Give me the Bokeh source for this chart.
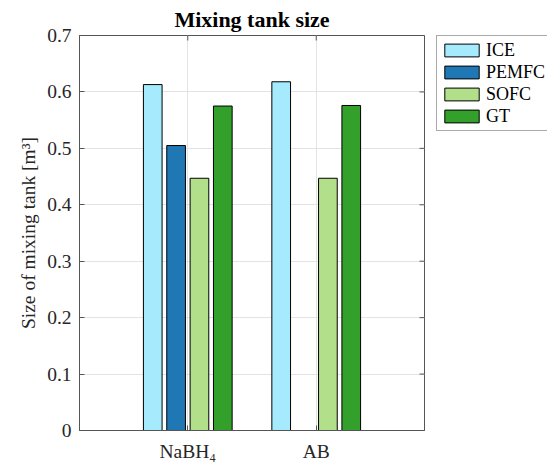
import numpy as np
from bokeh.plotting import figure
from bokeh.layouts import row
from bokeh.models import (ColumnDataSource, FixedTicker, LinearAxis, Legend,
                          LegendItem, Range1d)
from bokeh.transform import dodge
from bokeh.embed import file_html
from bokeh.resources import INLINE

# ---- data ----
categories = ["NaBH\u2084", "AB"]
positions = [1, 2]
series = ["ICE", "PEMFC", "SOFC", "GT"]
ICE = [0.613, 0.618]
PEMFC = [0.505, 0.0]
SOFC = [0.447, 0.447]
GT = [0.575, 0.576]
colors = ["#a6ebfd", "#1f77b4", "#b2df8a", "#33a02c"]
y_ticks = [0, 0.1, 0.2, 0.3, 0.4, 0.5, 0.6, 0.7]
x_lim = (0.157, 2.843)
y_lim = (0, 0.7)

source = ColumnDataSource(dict(x=positions, ICE=ICE, PEMFC=PEMFC, SOFC=SOFC, GT=GT))

FONT = "Liberation Serif"
AX = "#555555"
FS = "19.5px"

p = figure(width=436, height=467, output_backend="svg", toolbar_location=None,
           x_range=Range1d(*x_lim), y_range=Range1d(*y_lim),
           min_border_left=79, min_border_right=12, min_border_top=34,
           min_border_bottom=37, x_axis_location=None, y_axis_location=None)

p.title.text = "Mixing tank size"
p.title.text_font = FONT
p.title.text_font_size = "22px"
p.title.text_font_style = "bold"
p.title.align = "center"
p.title.text_color = "black"
p.title.standoff = 8

slot = 0.7272 / 4
offsets = [-1.5 * slot, -0.5 * slot, 0.5 * slot, 1.5 * slot]
for name, col, off in zip(series, colors, offsets):
    p.vbar(x=dodge("x", off), top=name, width=0.8 * slot, source=source,
           fill_color=col, line_color="black", line_width=1)

xt = FixedTicker(ticks=positions)
yt = FixedTicker(ticks=y_ticks)

def style(ax):
    ax.axis_line_color = AX
    ax.axis_line_width = 1
    ax.major_tick_line_color = AX
    ax.major_tick_in = 5
    ax.major_tick_out = 0
    ax.minor_tick_line_color = None
    ax.major_label_text_font = FONT
    ax.major_label_text_font_size = FS
    ax.major_label_text_color = "#262626"

xb = LinearAxis(ticker=xt, major_label_overrides={1: categories[0], 2: categories[1]})
style(xb)
xb.major_label_standoff = 10
p.add_layout(xb, "below")

yl = LinearAxis(ticker=yt, major_label_overrides={0: "0"})
style(yl)
yl.major_label_standoff = 8
yl.axis_label = "Size of mixing tank [m\u00b3]"
yl.axis_label_text_font = FONT
yl.axis_label_text_font_size = FS
yl.axis_label_text_font_style = "normal"
yl.axis_label_text_color = "#262626"
yl.axis_label_standoff = 5
p.add_layout(yl, "left")

# inward tick marks on the top and right edges of the box
p.ray(x=[x_lim[1]] * len(y_ticks), y=y_ticks, length=5, length_units="screen",
      angle=np.pi, line_color=AX, line_width=1)
p.ray(x=positions, y=[y_lim[1]] * len(positions), length=5, length_units="screen",
      angle=-np.pi / 2, line_color=AX, line_width=1)

p.xgrid.ticker = xt
p.ygrid.ticker = yt
for g in (p.xgrid, p.ygrid):
    g.grid_line_color = "#e3e3e3"
    g.grid_line_width = 1
p.outline_line_color = AX

# ---- legend panel (separate narrow figure to the right of the axes) ----
lp = figure(width=111, height=467, output_backend="svg", toolbar_location=None,
            title=None, min_border_left=0, min_border_right=0, min_border_top=34,
            min_border_bottom=0, x_axis_location=None, y_axis_location=None,
            outline_line_color=None, x_range=Range1d(*x_lim), y_range=Range1d(*y_lim))
lp.xgrid.visible = False
lp.ygrid.visible = False
leg_renderers = [lp.vbar(x="x", top=name, width=0.8 * slot, source=source, fill_color=c,
                         line_color="black", line_width=1, visible=False)
                 for name, c in zip(series, colors)]

legend = Legend(items=[LegendItem(label=s, renderers=[r]) for s, r in zip(series, leg_renderers)],
                location="top_left")
legend.label_text_font = FONT
legend.label_text_font_size = "18px"
legend.label_text_color = "black"
legend.glyph_width = 43
legend.glyph_height = 16
legend.label_standoff = 3
legend.label_height = 22
legend.spacing = 0
legend.padding = 3
legend.margin = 0
legend.border_line_color = AX
legend.border_line_width = 1
legend.background_fill_color = "white"
legend.background_fill_alpha = 1
legend.inactive_fill_alpha = 0
legend.click_policy = "none"
lp.add_layout(legend, "center")

layout = row(p, lp, spacing=0)
open("out.html", "w").write(file_html(layout, INLINE))
